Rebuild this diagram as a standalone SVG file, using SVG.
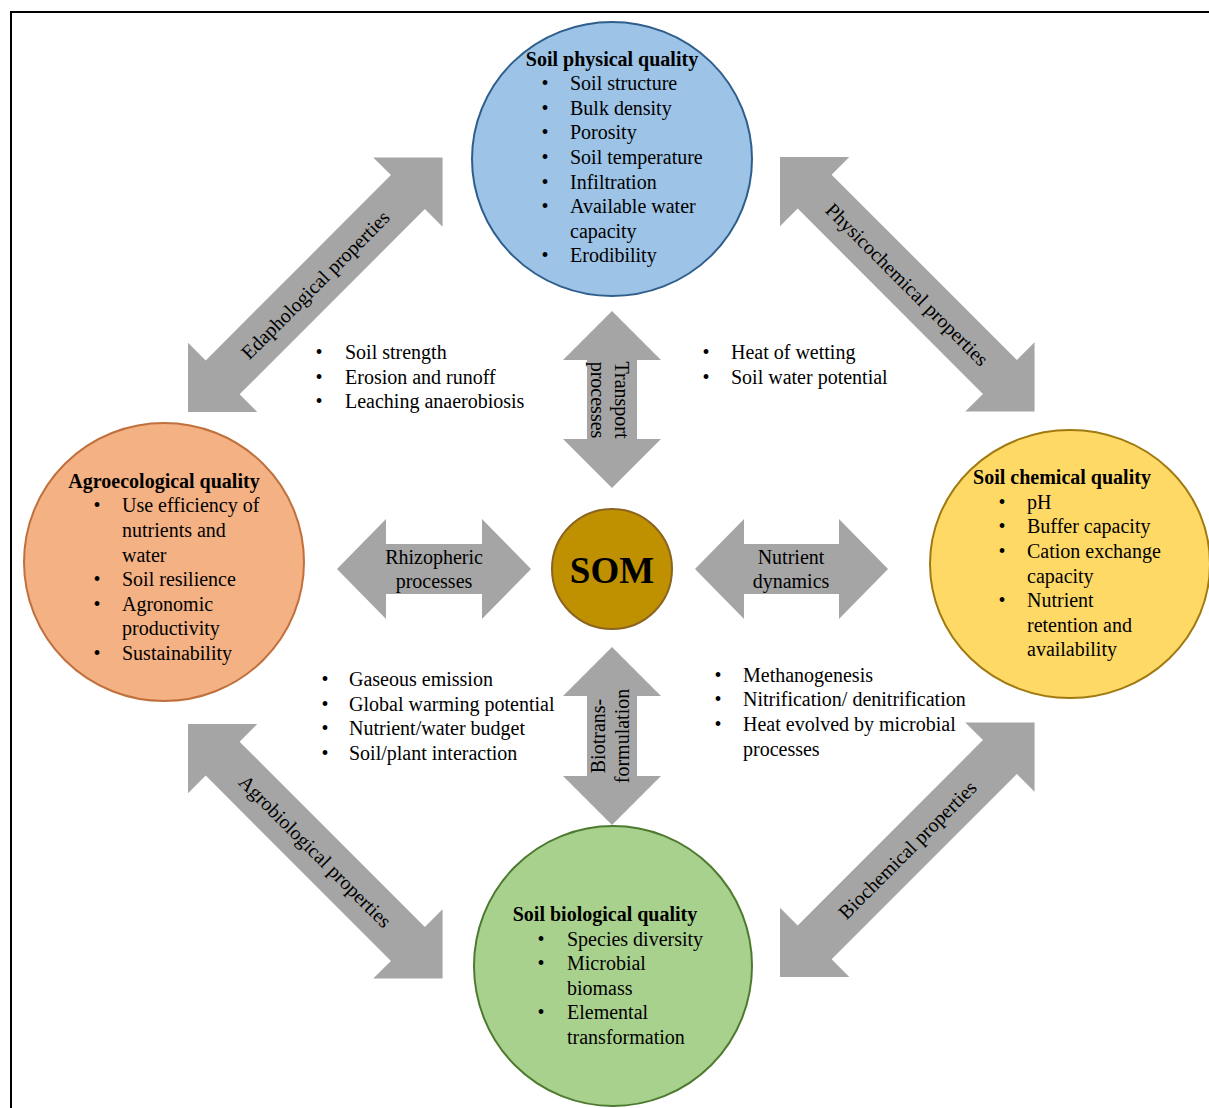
<svg xmlns="http://www.w3.org/2000/svg" width="1209" height="1108" viewBox="0 0 1209 1108">
<defs>
<style>
text{font-family:"Liberation Serif","Times New Roman",serif;font-size:20px;fill:#000}
.t{font-weight:bold}
.c{text-anchor:middle}
.arr{fill:#A5A5A5}
</style>
</defs>
<rect x="0" y="0" width="1209" height="1108" fill="#fff"/>
<rect x="11" y="12" width="1300" height="1200" fill="none" stroke="#000" stroke-width="2"/>
<g id="connectors">
<g id="edaphological" transform="translate(188,412) rotate(-45)">
<path class="arr" d="M0,0 L49,-49 L49,-24 L311,-24 L311,-49 L360,0 L311,49 L311,24 L49,24 L49,49 Z"/>
<text class="c" x="180" y="7">Edaphological properties</text>
</g>
<g id="physicochemical" transform="translate(780,157) rotate(45)">
<path class="arr" d="M0,0 L49,-49 L49,-24 L311,-24 L311,-49 L360,0 L311,49 L311,24 L49,24 L49,49 Z"/>
<text class="c" x="180" y="7">Physicochemical properties</text>
</g>
<g id="agrobiological" transform="translate(188,724) rotate(45)">
<path class="arr" d="M0,0 L49,-49 L49,-24 L311,-24 L311,-49 L360,0 L311,49 L311,24 L49,24 L49,49 Z"/>
<text class="c" x="180" y="7">Agrobiological properties</text>
</g>
<g id="biochemical" transform="translate(780,977) rotate(-45)">
<path class="arr" d="M0,0 L49,-49 L49,-24 L311,-24 L311,-49 L360,0 L311,49 L311,24 L49,24 L49,49 Z"/>
<text class="c" x="180" y="7">Biochemical properties</text>
</g>
<g id="transport">
<path class="arr" d="M612,311 L661,360 L637,360 L637,439 L661,439 L612,488 L563,439 L587,439 L587,360 L563,360 Z"/>
<g transform="translate(612,400) rotate(90)">
<text class="c" x="0" y="-3">Transport</text>
<text class="c" x="0" y="21">processes</text>
</g>
</g>
<g id="biotransformation">
<path class="arr" d="M612,647 L661,696 L637,696 L637,776 L661,776 L612,825 L563,776 L587,776 L587,696 L563,696 Z"/>
<g transform="translate(612,736) rotate(-90)">
<text class="c" x="0" y="-7">Biotrans-</text>
<text class="c" x="0" y="17">formulation</text>
</g>
</g>
<g id="rhizopheric">
<path class="arr" d="M337,569 L386,519 L386,544 L482,544 L482,519 L531,569 L482,619 L482,594 L386,594 L386,619 Z"/>
<text class="c" x="434" y="564">Rhizopheric</text>
<text class="c" x="434" y="588">processes</text>
</g>
<g id="nutrient">
<path class="arr" d="M695,569 L744,519 L744,544 L839,544 L839,519 L888,569 L839,619 L839,594 L744,594 L744,619 Z"/>
<text class="c" x="791" y="564">Nutrient</text>
<text class="c" x="791" y="588">dynamics</text>
</g>
</g>
<g id="physical">
<ellipse cx="612" cy="159" rx="140" ry="137" fill="#9DC3E6" stroke="#2E5E8C" stroke-width="2"/>
<text class="t c" x="612" y="66">Soil physical quality</text>
<g>
<text class="c" x="545" y="90">•</text><text x="570" y="90">Soil structure</text>
<text class="c" x="545" y="115">•</text><text x="570" y="115">Bulk density</text>
<text class="c" x="545" y="139">•</text><text x="570" y="139">Porosity</text>
<text class="c" x="545" y="164">•</text><text x="570" y="164">Soil temperature</text>
<text class="c" x="545" y="189">•</text><text x="570" y="189">Infiltration</text>
<text class="c" x="545" y="213">•</text><text x="570" y="213">Available water</text>
<text x="570" y="238">capacity</text>
<text class="c" x="545" y="262">•</text><text x="570" y="262">Erodibility</text>
</g>
</g>
<g id="chemical">
<ellipse cx="1070" cy="564" rx="140" ry="134" fill="#FFD966" stroke="#A07A10" stroke-width="2"/>
<text class="t c" x="1062" y="484">Soil chemical quality</text>
<text class="c" x="1002" y="509">•</text><text x="1027" y="509">pH</text>
<text class="c" x="1002" y="533">•</text><text x="1027" y="533">Buffer capacity</text>
<text class="c" x="1002" y="558">•</text><text x="1027" y="558">Cation exchange</text>
<text x="1027" y="583">capacity</text>
<text class="c" x="1002" y="607">•</text><text x="1027" y="607">Nutrient</text>
<text x="1027" y="632">retention and</text>
<text x="1027" y="656">availability</text>
</g>
<g id="agroecological">
<ellipse cx="164" cy="562" rx="140" ry="139" fill="#F4B183" stroke="#C0703C" stroke-width="2"/>
<text class="t c" x="164" y="488">Agroecological quality</text>
<text class="c" x="97" y="512">•</text><text x="122" y="512">Use efficiency of</text>
<text x="122" y="537">nutrients and</text>
<text x="122" y="562">water</text>
<text class="c" x="97" y="586">•</text><text x="122" y="586">Soil resilience</text>
<text class="c" x="97" y="611">•</text><text x="122" y="611">Agronomic</text>
<text x="122" y="635">productivity</text>
<text class="c" x="97" y="660">•</text><text x="122" y="660">Sustainability</text>
</g>
<g id="biological">
<ellipse cx="613" cy="966" rx="139" ry="140" fill="#A9D18E" stroke="#4E7A30" stroke-width="2"/>
<text class="t c" x="605" y="921">Soil biological quality</text>
<text class="c" x="541" y="946">•</text><text x="567" y="946">Species diversity</text>
<text class="c" x="541" y="970">•</text><text x="567" y="970">Microbial</text>
<text x="567" y="995">biomass</text>
<text class="c" x="541" y="1019">•</text><text x="567" y="1019">Elemental</text>
<text x="567" y="1044">transformation</text>
</g>
<g id="som">
<circle cx="612" cy="569" r="60" fill="#BF9000" stroke="#8A6420" stroke-width="2"/>
<text class="t c" x="612" y="583" style="font-size:37px">SOM</text>
</g>
<g id="notes-upper-left">
<text class="c" x="319" y="359">•</text><text x="345" y="359">Soil strength</text>
<text class="c" x="319" y="384">•</text><text x="345" y="384">Erosion and runoff</text>
<text class="c" x="319" y="408">•</text><text x="345" y="408">Leaching anaerobiosis</text>
</g>
<g id="notes-upper-right">
<text class="c" x="706" y="359">•</text><text x="731" y="359">Heat of wetting</text>
<text class="c" x="706" y="384">•</text><text x="731" y="384">Soil water potential</text>
</g>
<g id="notes-lower-left">
<text class="c" x="325" y="686">•</text><text x="349" y="686">Gaseous emission</text>
<text class="c" x="325" y="711">•</text><text x="349" y="711">Global warming potential</text>
<text class="c" x="325" y="735">•</text><text x="349" y="735">Nutrient/water budget</text>
<text class="c" x="325" y="760">•</text><text x="349" y="760">Soil/plant interaction</text>
</g>
<g id="notes-lower-right">
<text class="c" x="718" y="682">•</text><text x="743" y="682">Methanogenesis</text>
<text class="c" x="718" y="706">•</text><text x="743" y="706">Nitrification/ denitrification</text>
<text class="c" x="718" y="731">•</text><text x="743" y="731">Heat evolved by microbial</text>
<text x="743" y="756">processes</text>
</g>
</svg>
